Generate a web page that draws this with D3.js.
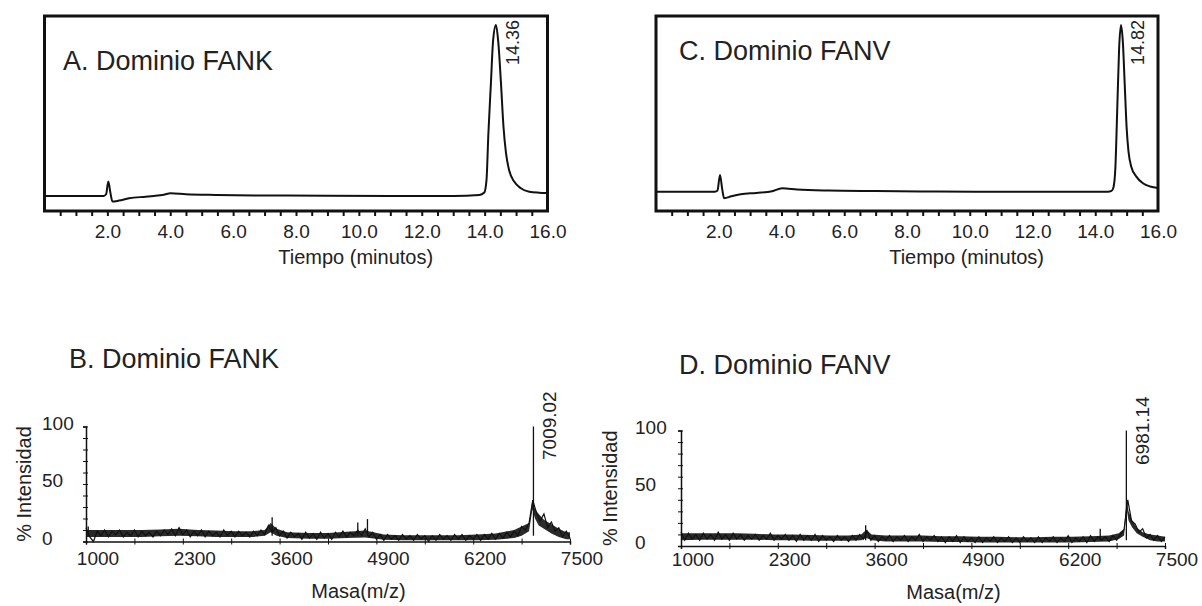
<!DOCTYPE html>
<html>
<head>
<meta charset="utf-8">
<script src="https://cdnjs.cloudflare.com/ajax/libs/d3/7.8.5/d3.min.js"></script>
<style>
  body { margin: 0; background: #fff; }
  text { font-family: "Liberation Sans", Arial, Helvetica, sans-serif; fill: #222; }
</style>
</head>
<body>
<div id="chart"></div>
<script>
// ---- Data ----

// HPLC chromatograms (retention time in minutes, relative absorbance)
const timeA = [0, 1.0, 1.88, 1.96, 2.03, 2.1, 2.16, 2.37, 2.69, 3.22, 3.75, 4.02, 4.5, 5.45, 7.0, 9.0, 11.0, 13.0, 13.83, 13.99, 14.06, 14.12, 14.2, 14.27, 14.36, 14.43, 14.52, 14.6, 14.68, 14.78, 14.94, 15.15, 15.42, 15.73, 16.0];
const signalA = [0, 0, 0, 1.0, 8.4, 1.5, -3.3, -2.7, -1.4, -0.4, 0.6, 1.6, 1.0, 0.6, 0.3, 0.1, 0, 0, 0.6, 2.0, 9.4, 36.7, 66, 91, 100, 91, 66, 40.5, 25, 15, 8.4, 4.5, 2.5, 1.9, 1.7];

const timeC = [0, 1.0, 1.88, 1.96, 2.04, 2.11, 2.17, 2.4, 2.7, 3.2, 3.7, 4.02, 4.5, 5.5, 7.0, 9.0, 11.0, 13.0, 14.4, 14.52, 14.58, 14.64, 14.7, 14.76, 14.82, 14.88, 14.94, 15.0, 15.06, 15.15, 15.31, 15.52, 15.75, 16.0];
const signalC = [2.5, 2.5, 2.5, 3.2, 12.3, 4, -1.3, -0.2, 1.0, 1.8, 2.8, 4.5, 3.8, 3.2, 2.9, 2.6, 2.5, 2.5, 2.5, 3.0, 5.0, 16, 50, 86, 100, 90, 65, 40, 26, 17, 11.3, 7.4, 5.5, 4.7];

const timeTicks = [2, 4, 6, 8, 10, 12, 14, 16];

// MALDI spectra, one intensity every 50 m/z from 1000 to 7500
const intensityB = [
  12, 4, 0, 9, 5, 10, 4, 9, 6, 10, 4, 8, 5, 10, 4, 9, 5, 8, 4, 9,
  5, 10, 6, 11, 5, 12, 6, 10, 4, 9, 5, 10, 4, 9, 5, 8, 4, 10, 5, 9,
  4, 9, 5, 8, 4, 9, 5, 10, 6, 14, 8, 12, 5, 9, 3, 8, 4, 7, 2, 8,
  3, 7, 2, 8, 3, 7, 2, 8, 4, 9, 4, 8, 5, 10, 5, 11, 4, 8, 2, 6,
  1, 6, 2, 5, 1, 6, 2, 5, 1, 6, 2, 5, 0, 5, 1, 6, 2, 5, 1, 6,
  2, 6, 1, 5, 2, 6, 1, 6, 2, 7, 2, 7, 3, 8, 4, 9, 5, 13, 10, 16,
  36, 25, 18, 24, 12, 17, 9, 12, 4, 9, 3
];
const intensityD = [
  12, 5, 11, 6, 10, 5, 11, 6, 10, 5, 12, 6, 10, 5, 11, 6, 10, 5, 9, 6,
  10, 5, 9, 6, 11, 5, 9, 6, 10, 5, 9, 4, 10, 5, 9, 5, 10, 4, 9, 5,
  8, 4, 9, 5, 8, 4, 9, 5, 10, 6, 13, 5, 9, 4, 8, 5, 9, 4, 8, 5,
  9, 4, 8, 5, 10, 4, 8, 5, 9, 4, 8, 3, 8, 4, 9, 3, 8, 4, 7, 3,
  8, 3, 7, 4, 8, 3, 7, 4, 8, 3, 7, 3, 8, 4, 7, 3, 8, 3, 7, 4,
  8, 3, 7, 4, 9, 3, 7, 4, 8, 3, 9, 4, 8, 5, 8, 4, 9, 5, 10, 14,
  40, 22, 19, 12, 15, 7, 10, 5, 9, 4, 8
];

// lower / upper edge of the dense noise band
const envMassB = [1000, 1250, 1500, 1750, 2000, 2250, 2500, 2750, 3000, 3250, 3400, 3480, 3560, 3700, 4000, 4250, 4500, 4750, 5000, 5250, 5500, 5750, 6000, 6250, 6500, 6750, 6850, 6950, 6995, 7030, 7080, 7150, 7250, 7350, 7450, 7500];
const envLowB = [4, 4, 4, 4, 4.5, 5, 4.5, 4, 4, 4, 5, 8, 5, 3, 2.5, 2.5, 3, 3.5, 1.5, 1, 1, 1, 1, 1, 1.5, 3, 5, 9, 28, 20, 14, 11, 7, 4, 2, 2];
const envHighB = [10, 10, 10, 10, 10.5, 11, 10, 9.5, 9, 9, 10, 16, 11, 8, 7.5, 7.5, 8.5, 9.5, 6, 5.5, 5.5, 5.5, 5.5, 6, 7, 10, 13, 16, 36, 28, 24, 19, 15, 11, 8, 8];

const envMassD = [1000, 1250, 1500, 1750, 2000, 2250, 2500, 2750, 3000, 3250, 3420, 3490, 3560, 3750, 4000, 4250, 4500, 4750, 5000, 5250, 5500, 5750, 6000, 6250, 6500, 6750, 6880, 6950, 6985, 7010, 7060, 7120, 7200, 7300, 7400, 7500];
const envLowD = [5, 5.5, 5.5, 5.5, 5.5, 5, 5, 4.5, 4.5, 4.5, 5, 7, 5, 4, 4, 4, 3.5, 3.5, 3, 3, 3, 3, 3, 3, 3.5, 4, 6, 9, 32, 22, 16, 11, 8, 5, 4, 4];
const envHighD = [11, 11, 11, 11, 10.5, 10, 10, 9.5, 9, 9, 10, 14, 10, 9, 9, 9, 8.5, 8.5, 8, 8, 7.5, 7.5, 8, 8, 8.5, 9, 11, 15, 41, 30, 22, 16, 12, 10, 9, 8];

// narrow spikes standing out of the noise
const stickMassB = [1030, 3500, 4650, 4780, 7009.02];
const stickTopB = [13, 21, 16.5, 19.5, 100];
const stickMassD = [3480, 6630, 6981.14];
const stickTopD = [18, 15, 100];

const massTicks = [1000, 2300, 3600, 4900, 6200, 7500];
const intensityTicks = [0, 50, 100];

// ---- Set up ----
const svg = d3.select("#chart").append("svg")
  .attr("width", 1202)
  .attr("height", 606)
  .style("background", "#fff");

const ink = "#111";

function drawChromatogram(cfg) {
  const x = d3.scaleLinear().domain([0, 16]).range([cfg.left, cfg.right]);
  const y = d3.scaleLinear().domain([-8.8, 105.3]).range([211, 16]);
  const g = svg.append("g");

  // Minor ticks every 0.5 min under the frame
  g.append("g")
    .attr("transform", "translate(0,212)")
    .call(d3.axisBottom(x).tickValues(d3.range(0.5, 16, 0.5)).tickSize(4).tickFormat(""))
    .call(a => a.select(".domain").remove())
    .call(a => a.selectAll(".tick line").attr("stroke", ink).attr("stroke-width", 2));

  // Tick labels
  g.append("g")
    .attr("transform", "translate(0,211)")
    .call(d3.axisBottom(x).tickValues(timeTicks).tickSize(0).tickFormat(d3.format(".1f")))
    .call(a => a.select(".domain").remove())
    .call(a => a.selectAll("text")
      .attr("y", 26.5).attr("dy", 0)
      .style("font-size", "19px"));

  // Trace
  g.append("path")
    .datum(d3.zip(cfg.time, cfg.signal))
    .attr("fill", "none")
    .attr("stroke", ink)
    .attr("stroke-width", 2)
    .attr("stroke-linejoin", "round")
    .attr("d", d3.line().x(d => x(d[0])).y(d => y(d[1])).curve(d3.curveMonotoneX));

  // Frame
  g.append("rect")
    .attr("x", cfg.left)
    .attr("y", 16)
    .attr("width", cfg.right - cfg.left)
    .attr("height", 195)
    .attr("fill", "none")
    .attr("stroke", ink)
    .attr("stroke-width", 3);

  // Panel title
  g.append("text")
    .attr("x", cfg.titleX)
    .attr("y", cfg.titleY)
    .style("font-size", "27px")
    .text(cfg.title);

  // Retention time of the main peak
  g.append("text")
    .attr("transform", "translate(" + (x(cfg.peak) + 23) + ",65) rotate(-90)")
    .style("font-size", "18px")
    .text(d3.format(".2f")(cfg.peak));

  // Axis title
  g.append("text")
    .attr("x", x(9.9))
    .attr("y", 264)
    .attr("text-anchor", "middle")
    .style("font-size", "20px")
    .text("Tiempo (minutos)");
}

function drawSpectrum(cfg) {
  const x = d3.scaleLinear().domain([1000, 7500]).range([cfg.left, cfg.right]);
  const y = d3.scaleLinear().domain([0, 100]).range([cfg.base, cfg.top]);
  const mass = d3.range(1000, 7501, 50);
  const g = svg.append("g");

  // Noise band
  g.append("path")
    .datum(d3.zip(cfg.envMass, cfg.envLow, cfg.envHigh))
    .attr("fill", "#2a2a2a")
    .attr("d", d3.area().x(d => x(d[0])).y0(d => y(d[1])).y1(d => y(d[2])));

  // Noisy trace
  g.append("path")
    .datum(d3.zip(mass, cfg.intensity))
    .attr("fill", "none")
    .attr("stroke", ink)
    .attr("stroke-width", 1.2)
    .attr("d", d3.line().x(d => x(d[0])).y(d => y(d[1])));

  // Spikes
  g.selectAll(".stick")
    .data(d3.zip(cfg.stickMass, cfg.stickTop))
    .enter().append("line")
    .attr("class", "stick")
    .attr("x1", d => x(d[0]))
    .attr("x2", d => x(d[0]))
    .attr("y1", y(5))
    .attr("y2", d => y(d[1]))
    .attr("stroke", ink)
    .attr("stroke-width", 1.3);

  // X axis
  const xAxis = g.append("g").attr("transform", "translate(0," + cfg.base + ")");
  xAxis.call(d3.axisBottom(x).tickValues(d3.range(1000, 7501, 650)).tickSize(3).tickFormat(""))
    .call(a => a.selectAll(".tick line").attr("y1", -3).attr("stroke", ink))
    .call(a => a.select(".domain").attr("stroke", ink).attr("stroke-width", 1.5));
  xAxis.append("g")
    .call(d3.axisBottom(x).tickValues(massTicks).tickSize(0).tickFormat(d3.format("d")))
    .call(a => a.select(".domain").remove())
    .call(a => a.selectAll("text")
      .attr("x", 11.5)
      .attr("y", cfg.labelY - cfg.base).attr("dy", 0)
      .style("font-size", "19px"));

  // Y axis
  const yAxis = g.append("g").attr("transform", "translate(" + cfg.left + ",0)");
  yAxis.call(d3.axisLeft(y).tickValues(d3.range(0, 101, 10)).tickSize(3).tickFormat(""))
    .call(a => a.selectAll(".tick line").attr("x1", 2).attr("stroke", ink))
    .call(a => a.select(".domain").attr("stroke", ink).attr("stroke-width", 1.5));
  yAxis.append("g")
    .call(d3.axisLeft(y).tickValues(intensityTicks).tickSize(0).tickFormat(d3.format("d")))
    .call(a => a.select(".domain").remove())
    .call(a => a.selectAll("text")
      .attr("x", cfg.yLabelDx)
      .attr("text-anchor", "start")
      .attr("dy", "0.32em")
      .attr("transform", "translate(0,-3.5)")
      .style("font-size", "19px"));

  // Main peak mass
  g.append("text")
    .attr("transform", "translate(" + (x(cfg.peak) + 23) + "," + cfg.peakLabelY + ") rotate(-90)")
    .style("font-size", "19px")
    .text(d3.format(".2f")(cfg.peak));

  // Panel title
  g.append("text")
    .attr("x", cfg.titleX)
    .attr("y", cfg.titleY)
    .style("font-size", "27px")
    .text(cfg.title);

  // Axis titles
  g.append("text")
    .attr("x", x(4660))
    .attr("y", cfg.labelY + 33)
    .attr("text-anchor", "middle")
    .style("font-size", "20px")
    .text("Masa(m/z)");

  g.append("text")
    .attr("transform", "translate(" + cfg.yTitleX + "," + (cfg.base + cfg.top) / 2 + ") rotate(-90)")
    .attr("text-anchor", "middle")
    .style("font-size", "20px")
    .text("% Intensidad");
}

// ---- Panels ----
drawChromatogram({ left: 44.5, right: 547.5, time: timeA, signal: signalA, peak: 14.36,
  title: "A. Dominio FANK", titleX: 63, titleY: 70 });
drawChromatogram({ left: 656, right: 1158, time: timeC, signal: signalC, peak: 14.82,
  title: "C. Dominio FANV", titleX: 679, titleY: 60 });

drawSpectrum({ left: 86, right: 570, base: 541.5, top: 426.5, intensity: intensityB,
  envMass: envMassB, envLow: envLowB, envHigh: envHighB,
  stickMass: stickMassB, stickTop: stickTopB, peak: 7009.02, peakLabelY: 460,
  title: "B. Dominio FANK", titleX: 69, titleY: 368, labelY: 565, yLabelDx: -44, yTitleX: 31 });
drawSpectrum({ left: 681, right: 1165, base: 546, top: 430.5, intensity: intensityD,
  envMass: envMassD, envLow: envLowD, envHigh: envHighD,
  stickMass: stickMassD, stickTop: stickTopD, peak: 6981.14, peakLabelY: 465,
  title: "D. Dominio FANV", titleX: 679, titleY: 374, labelY: 566, yLabelDx: -46, yTitleX: 617 });
</script>
</body>
</html>
